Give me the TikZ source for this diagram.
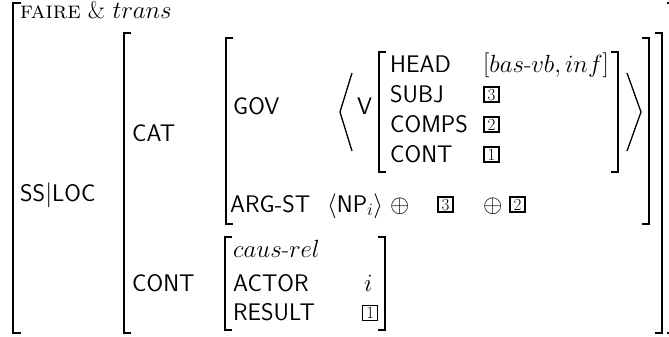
\documentclass[tikz,border=0pt]{standalone}
\begin{document}
\begin{tikzpicture}[x=1pt,y=-1pt,
  lbl/.style={anchor=base west, inner sep=0pt, font=\fontsize{24}{28}\selectfont\sffamily},
  brk/.style={line width=1.9pt, line cap=butt, line join=miter},
  ang/.style={line width=1.3pt, line join=miter},
  tagbox/.style={draw, line width=1.9pt, anchor=south west, minimum width=15pt,
    minimum height=15pt, inner sep=0pt, font=\fontsize{17}{17}\selectfont\rmfamily}]
\useasboundingbox (0,0) rectangle (669,337);

% sort of the whole structure
\node[lbl, font=\fontsize{24}{28}\selectfont\rmfamily] (sort) at (20,19) {\textsc{faire} \& $trans$};

% attribute labels
\node[lbl] (ssloc) at (20,201) {SS$|$LOC};
\node[lbl] (cat) at (132,141) {CAT};
\node[lbl] (cont) at (132,291) {CONT};
\node[lbl] (gov) at (233,114) {GOV};
\node[lbl] (argst) at (230,212) {ARG-ST};

% the governed verb
\node[lbl] (v) at (357,114) {V};
\node[lbl] (head) at (390,72) {HEAD};
\node[lbl] (subj) at (390,102) {SUBJ};
\node[lbl] (comps) at (390,132) {COMPS};
\node[lbl] (contv) at (390,162) {CONT};
\node[lbl] (headval) at (483,72) {$\big[bas\mbox{\normalfont -}vb,inf\big]$};
\node[tagbox] (tsubj) at (483,103) {3};
\node[tagbox] (tcomps) at (483,133) {2};
\node[tagbox] (tcont) at (483,163) {1};

% argument structure
\node[lbl] (np) at (327,212) {$\big\langle\mbox{NP}_i\big\rangle$};
\node[lbl] (opa) at (390,212) {$\oplus$};
\node[tagbox] (targa) at (437,213) {3};
\node[lbl] (opb) at (483,212) {$\oplus$};
\node[tagbox] (targb) at (509,213) {2};

% content
\node[lbl] (caus) at (233,257) {$caus\mbox{\normalfont -}rel$};
\node[lbl] (actor) at (233,291) {ACTOR};
\node[lbl] (result) at (233,320) {RESULT};
\node[lbl] (iactor) at (364,291) {$i$};
\node[tagbox, line width=1.3pt] (tresult) at (362,321) {1};

% brackets
\draw[brk] (21,3) -- (13,3) -- (13,333) -- (21,333);
\draw[brk] (131,33) -- (124,33) -- (124,333) -- (131,333);
\draw[brk] (655,33) -- (662,33) -- (662,333) -- (655,333);
\draw[brk] (233,38) -- (226,38) -- (226,224) -- (233,224);
\draw[brk] (642,38) -- (649,38) -- (649,224) -- (642,224);
\draw[brk] (386,52) -- (379,52) -- (379,172) -- (386,172);
\draw[brk] (611,52) -- (618,52) -- (618,172) -- (611,172);
\draw[brk] (232,237) -- (225,237) -- (225,330) -- (232,330);
\draw[brk] (378,237) -- (385,237) -- (385,330) -- (378,330);
\begin{scope}
  \clip (0,0) rectangle (669,337);
  \draw[brk] (667,3) -- (672,3) -- (672,333) -- (667,333);
\end{scope}

% list angles
\draw[ang] (352,73) -- (340,112) -- (352,151);
\draw[ang] (627,73) -- (641,112) -- (627,151);
\end{tikzpicture}
\end{document}
